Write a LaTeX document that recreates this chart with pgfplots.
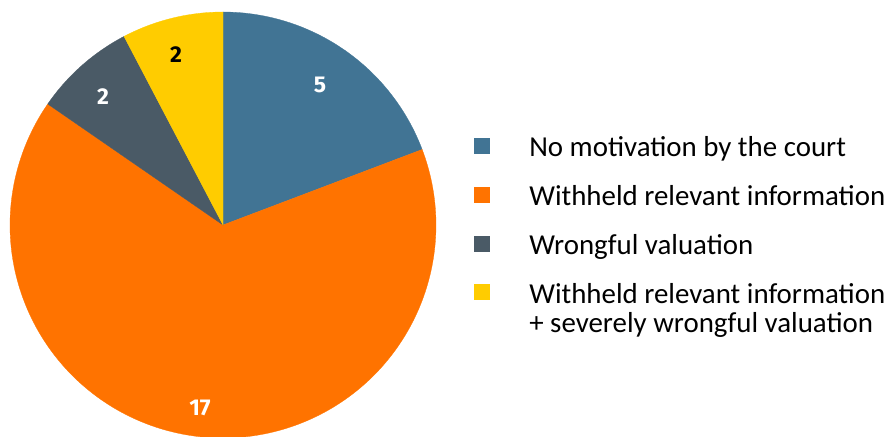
\documentclass[border=0pt]{standalone}
\usepackage{pgfplots}
\usepackage{pgfplotstable}
\pgfplotsset{compat=1.18}
\usepackage{fontspec}
\setmainfont{Carlito}
\newfontfamily\numfont{Fira Sans}
\definecolor{cBlue}{RGB}{65,116,148}
\definecolor{cOrange}{RGB}{255,115,0}
\definecolor{cSlate}{RGB}{74,90,102}
\definecolor{cYellow}{RGB}{255,204,0}

\pgfplotstableread{
idx value
0 5
1 17
2 2
3 2
}\pietable
\pgfplotstablegetelem{0}{value}\of\pietable \let\vA\pgfplotsretval
\pgfplotstablegetelem{1}{value}\of\pietable \let\vB\pgfplotsretval
\pgfplotstablegetelem{2}{value}\of\pietable \let\vC\pgfplotsretval
\pgfplotstablegetelem{3}{value}\of\pietable \let\vD\pgfplotsretval
\pgfmathsetmacro\tot{\vA+\vB+\vC+\vD}
\pgfmathsetmacro\aO{90}
\pgfmathsetmacro\aA{\aO-360*\vA/\tot}
\pgfmathsetmacro\aB{\aA-360*\vB/\tot}
\pgfmathsetmacro\aC{\aB-360*\vC/\tot}
\pgfmathsetmacro\aD{\aC-360*\vD/\tot}

\begin{document}
\begin{tikzpicture}
\begin{axis}[at={(0,0)}, anchor=south west, scale only axis,
  width=894bp, height=437bp, xmin=0, xmax=894, ymin=0, ymax=437,
  hide axis, clip=true,
  legend cell align=left,
  legend style={at={(axis cs:474,300)}, anchor=north west, draw=none, fill=none,
    inner sep=0pt, outer sep=0pt, row sep=20.7bp, column sep=40bp,
    font=\fontsize{29}{30}\selectfont,
    cells={anchor=base west},
    nodes={inner sep=0pt, text height=20bp, text depth=8bp, anchor=base west}},
  legend image code/.code={\fill[#1] (0bp,3.5bp) rectangle (15bp,18.5bp);}
]
\addplot[fill=cBlue, draw=cBlue, line width=0.3bp, domain=\aA:\aO, samples=80]
  ({223+213*cos(x)},{212+213*sin(x)}) -- (axis cs:223,212) -- cycle;
\addlegendentry{No motivation by the court}
\addplot[fill=cOrange, draw=cOrange, line width=0.3bp, domain=\aB:\aA, samples=200]
  ({223+213*cos(x)},{212+213*sin(x)}) -- (axis cs:223,212) -- cycle;
\addlegendentry{Withheld relevant information}
\addplot[fill=cSlate, draw=cSlate, line width=0.3bp, domain=\aC:\aB, samples=40]
  ({223+213*cos(x)},{212+213*sin(x)}) -- (axis cs:223,212) -- cycle;
\addlegendentry{Wrongful valuation}
\addplot[fill=cYellow, draw=cYellow, line width=0.3bp, domain=\aD:\aC, samples=40]
  ({223+213*cos(x)},{212+213*sin(x)}) -- (axis cs:223,212) -- cycle;
\addlegendentry{\begin{tabular}[t]{@{}l@{}}Withheld relevant information\\+ severely wrongful valuation\end{tabular}}

\node[text=white, font=\numfont\bfseries\fontsize{23}{23}\selectfont] at (axis cs:320,352) {5};
\node[text=white, font=\numfont\bfseries\fontsize{23}{23}\selectfont] at (axis cs:103,340) {2};
\node[text=black, font=\numfont\bfseries\fontsize{23}{23}\selectfont] at (axis cs:176,382) {2};
\node[text=white, font=\numfont\bfseries\fontsize{23}{23}\selectfont] at (axis cs:200,29) {17};
\end{axis}
\pgfresetboundingbox
\useasboundingbox (0,0) rectangle (894bp,437bp);
\end{tikzpicture}
\end{document}
